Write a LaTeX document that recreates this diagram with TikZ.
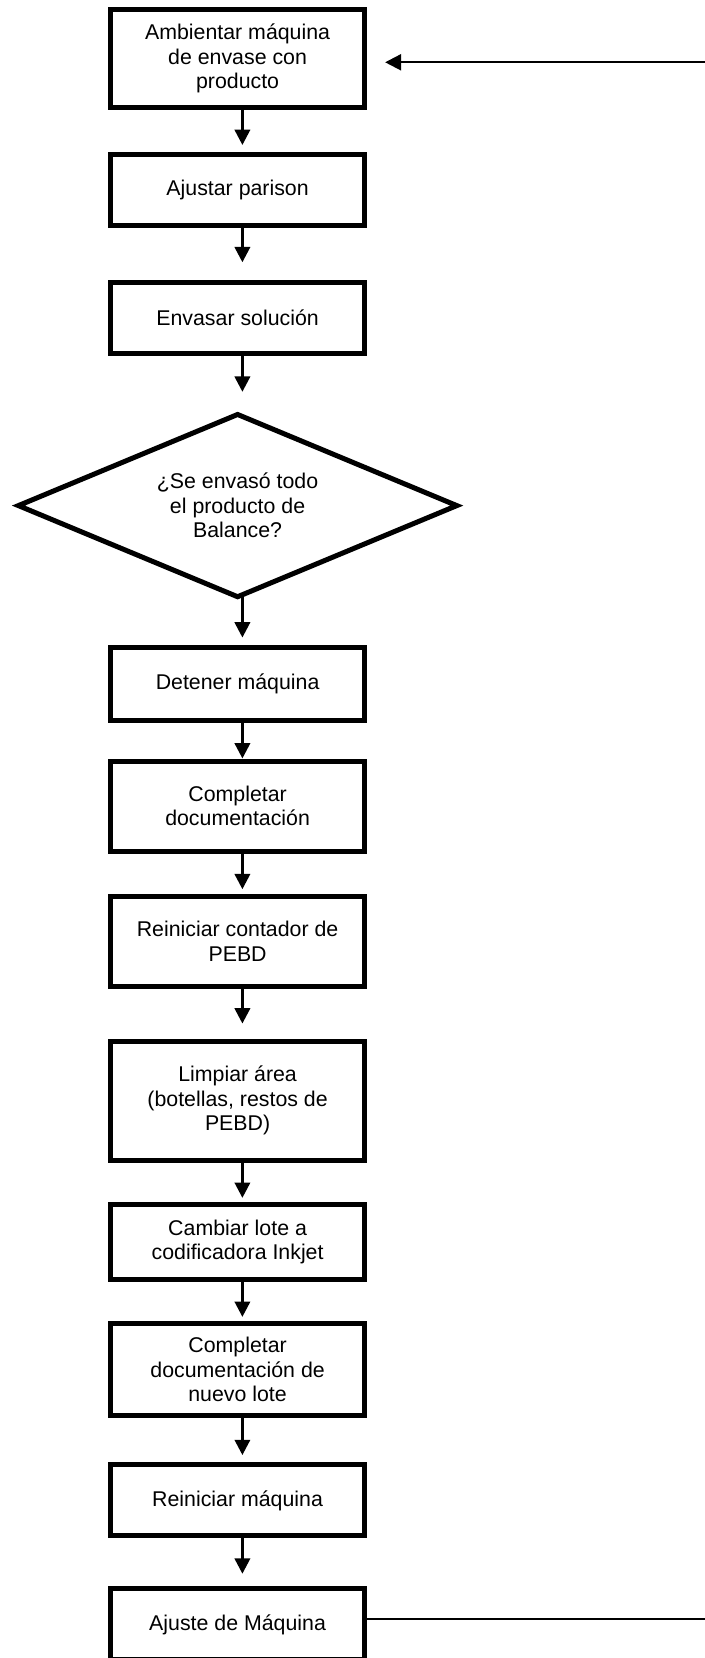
\documentclass[tikz,border=0pt]{standalone}
\usepackage{fontspec}
\setmainfont{Liberation Sans}
\usetikzlibrary{shapes.geometric,arrows.meta,positioning}

\begin{document}
\begin{tikzpicture}[
  x=0.75pt,y=0.75pt,
  font=\fontsize{16}{18.4}\selectfont,>={Triangle[length=11.5pt,width=11.5pt]},
  paso/.style={draw=black,line width=3.75pt,outer sep=0pt,inner sep=2pt,
               minimum width=190.1pt,align=center},
  decision/.style={diamond,draw=black,line width=3.75pt,outer sep=0pt,inner sep=0pt,
                   aspect=2.4,minimum width=328.8pt,minimum height=136.7pt,align=center},
  fl/.style={->,line width=2pt},
  fb/.style={->,line width=1.7pt,>={Triangle[length=12pt,width=12pt]}},
  ln/.style={line width=1.6pt}
]
\useasboundingbox (0,0) rectangle (705,-1658);

\node[paso,minimum height=73.7pt] at (237.6,-58.4) (amb) {Ambientar máquina\\de envase con\\producto};
\node[paso,minimum height=53.25pt,below=35pt of amb]   (ajp) {Ajustar parison};
\node[paso,minimum height=53.25pt,below=43pt of ajp]   (env) {Envasar solución};
\node[decision,below=45.7pt of env]                     (dec) {¿Se envasó todo\\el producto de\\Balance?};
\node[paso,minimum height=55pt,below=37.7pt of dec]    (det) {Detener máquina};
\node[paso,minimum height=67.5pt,below=30.5pt of det]  (doc) {Completar\\documentación};
\node[paso,minimum height=67.5pt,below=33.75pt of doc] (cnt) {Reiniciar contador de\\PEBD};
\node[paso,minimum height=89.25pt,below=41.25pt of cnt](lim) {Limpiar área\\(botellas, restos de\\PEBD)};
\node[paso,minimum height=56.25pt,below=33.3pt of lim] (lot) {Cambiar lote a\\codificadora Inkjet};
\node[paso,minimum height=69.2pt,below=33.2pt of lot]  (nlo) {Completar\\documentación de\\nuevo lote};
\node[paso,minimum height=53.25pt,below=36.75pt of nlo](rei) {Reiniciar máquina};
\node[paso,minimum height=53.25pt,below=39.75pt of rei](aju) {Ajuste de Máquina};

\draw[fl,shorten >=6.9pt]  ([xshift=3.6pt]amb.south) -- ([xshift=3.6pt]ajp.north);
\draw[fl,shorten >=15.2pt] ([xshift=3.6pt]ajp.south) -- ([xshift=3.6pt]env.north);
\draw[fl,shorten >=17pt]   ([xshift=3.6pt]env.south) -- ([xshift=3.6pt]dec.north);
\draw[fl,shorten >=7.1pt]  ([xshift=3.6pt]dec.south) -- ([xshift=3.6pt]det.north);
\draw[fl,shorten >=1.9pt]  ([xshift=3.6pt]det.south) -- ([xshift=3.6pt]doc.north);
\draw[fl,shorten >=5.1pt]  ([xshift=3.6pt]doc.south) -- ([xshift=3.6pt]cnt.north);
\draw[fl,shorten >=13.1pt] ([xshift=3.6pt]cnt.south) -- ([xshift=3.6pt]lim.north);
\draw[fl,shorten >=4.9pt]  ([xshift=3.6pt]lim.south) -- ([xshift=3.6pt]lot.north);
\draw[fl,shorten >=5.1pt]  ([xshift=3.6pt]lot.south) -- ([xshift=3.6pt]nlo.north);
\draw[fl,shorten >=7.4pt]  ([xshift=3.6pt]nlo.south) -- ([xshift=3.6pt]rei.north);
\draw[fl,shorten >=11.4pt] ([xshift=3.6pt]rei.south) -- ([xshift=3.6pt]aju.north);

% return line: ajuste de maquina -> back to the top
\coordinate (retT) at (705,-62.3);
\coordinate (retB) at (705,-1619.3);
\draw[fb,shorten >=15.6pt] (retT) -- (retT -| amb.east);
\draw[ln] (retB -| aju.east) -- (retB);
\end{tikzpicture}
\end{document}
